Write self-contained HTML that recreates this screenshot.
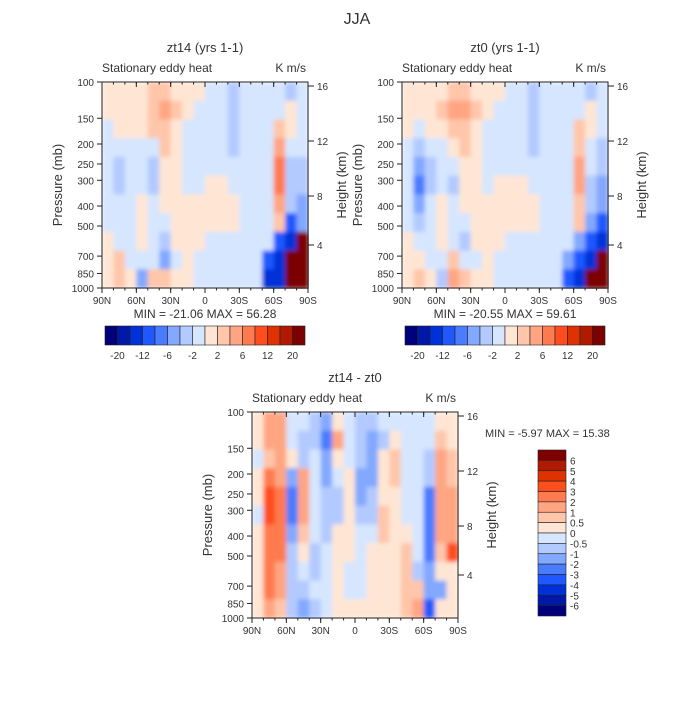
<!DOCTYPE html>
<html><head><meta charset="utf-8"><style>
body{margin:0;background:#fff}
svg text{font-family:"Liberation Sans",sans-serif;fill:#333}
</style></head><body>
<svg id="s" width="700" height="700" viewBox="0 0 700 700">
<defs><filter id="bl" x="0" y="0" width="1" height="1"><feGaussianBlur stdDeviation="2.2"/></filter></defs>
<text x="357" y="24" font-size="16" text-anchor="middle">JJA</text>
</svg>
<script>
const latLabels=["90N","60N","30N","0","30S","60S","90S"];
const pLabels=[100,150,200,250,300,400,500,700,850,1000];
const hLabels=[16,12,8,4];
const hPos=[86,141,196,245];
const topLevels=[-20,-16,-12,-8,-6,-4,-2,0,2,4,6,8,12,16,20];
const topColors=["#00007a","#0018a8","#0030d8","#1f58ff","#4a7cff","#82a8ff","#b2caff","#d6e6ff","#ffe6d4","#ffc6aa","#ffa582","#ff7a4e","#ff4d1e","#de3200","#b01a00","#7d0000"];
const diffLevels=[-6,-5,-4,-3,-2,-1,-0.5,0,0.5,1,2,3,4,5,6];
const diffColors=["#00007a","#0018a8","#0030d8","#1f58ff","#4a7cff","#82a8ff","#b2caff","#d6e6ff","#ffe6d4","#ffc6aa","#ffa582","#ff7a4e","#ff4d1e","#de3200","#b01a00","#7d0000"];
const zt14=[
[1,1,1,1,3,3,1,1,1,-1,-1,-3,-1,-1,-1,-1,-3,-1],
[1,1,1,1,3,5,3,1,-1,-1,-1,-3,-1,-1,-1,-1,1,-1],
[-1,1,1,1,3,3,1,-1,-1,-1,-1,-3,-1,-1,-1,3,1,-1],
[-1,-1,-1,-1,-1,3,1,-1,-1,-1,-1,-3,-1,-1,-1,5,-1,-1],
[-1,-3,-1,-1,-3,1,1,-1,-1,-1,-1,-1,-1,-1,-1,7,-3,-3],
[-1,-3,-1,-1,-3,1,1,-1,-1,1,1,-1,-1,-1,-1,7,-3,-3],
[-1,-1,-1,1,-1,1,1,1,1,1,1,1,-1,-1,-1,5,-3,-5],
[-1,-1,-1,1,-1,-1,1,1,1,1,1,1,-1,-1,-1,3,-9,-5],
[1,-1,-1,1,-1,-3,1,1,1,-1,-1,-1,-1,-1,-1,-9,-13,25],
[1,3,-1,-1,-1,-5,-1,1,-1,-1,-1,-1,-1,-1,-9,-13,25,25],
[1,3,1,-5,3,3,1,1,-1,-1,-1,-1,-1,-1,-13,-13,25,25]];
const zt0=[
[1,1,1,1,3,3,1,1,1,-1,-1,-3,-1,-1,-1,-1,-3,-1],
[1,1,1,3,5,5,3,1,-1,-1,-1,-3,-1,-1,-1,-1,1,-1],
[1,-1,1,1,3,3,1,-1,-1,-1,-1,-3,-1,-1,-1,3,1,-1],
[-1,-3,-1,-1,1,3,1,-1,-1,-1,-1,-3,-1,-1,-1,3,-1,-3],
[-1,-5,-3,-1,-1,1,1,-1,-1,-1,-1,-1,-1,-1,-1,5,-1,-3],
[-1,-7,-3,-1,-3,1,1,-1,1,1,1,-1,-1,-1,-1,5,-3,-5],
[-1,-5,-1,1,-1,1,1,1,1,1,1,1,-1,-1,-1,3,-3,-5],
[-1,-3,-1,1,-1,-1,1,1,1,1,1,1,-1,-1,-1,3,-5,-9],
[1,-1,-1,1,-1,-3,1,1,1,-1,-1,-1,-1,-1,-1,-5,-9,-13],
[1,1,-1,-1,3,-1,-1,1,-1,-1,-1,-1,-1,-1,-5,-9,-13,25],
[1,3,1,-3,5,3,1,1,-1,-1,-1,-1,-1,-1,-9,-13,25,25]];
const diff=[
[0.25,1.5,1.5,-0.25,-0.25,-0.75,-1.5,0.25,-0.25,-0.75,-0.75,-0.25,-0.25,-0.25,-0.25,-0.25,0.25,0.25],
[0.25,1.5,1.5,-0.25,-0.75,-0.75,-2.5,1.5,-0.25,-0.75,-1.5,-0.75,0.25,-0.25,-0.25,-0.25,0.75,0.25],
[-0.25,0.75,1.5,0.25,-0.75,-0.25,-1.5,0.25,-0.25,-0.75,-1.5,0.25,0.75,-0.25,-0.25,-0.75,1.5,0.75],
[0.25,2.5,1.5,-1.5,1.5,-0.25,-1.5,-0.25,0.25,-1.5,-1.5,0.25,0.75,-0.25,-0.25,-0.75,1.5,0.75],
[0.25,3.5,2.5,-2.5,1.5,-0.25,-0.75,-0.75,0.25,-1.5,-0.75,0.25,0.25,-0.25,-0.25,-2.5,1.5,1.5],
[-0.25,3.5,2.5,-2.5,1.5,-0.25,-0.75,-0.75,0.25,-0.75,-0.75,0.75,0.25,-0.25,-0.25,-2.5,1.5,1.5],
[0.25,2.5,2.5,-1.5,0.75,-0.25,-0.75,0.25,0.25,-0.25,-0.25,0.75,0.25,0.25,-0.25,-2.5,1.5,1.5],
[0.25,2.5,2.5,-0.75,0.25,-0.75,-0.25,0.25,0.25,-0.25,0.25,0.25,0.25,0.75,-0.25,-2.5,0.75,3.5],
[0.25,2.5,1.5,-0.75,-0.25,-0.75,-0.25,0.25,-0.25,-0.25,0.25,0.25,0.25,0.75,-0.75,-1.5,0.25,0.25],
[0.25,2.5,1.5,-0.75,-0.75,-0.25,-0.25,0.25,-0.25,-0.25,0.25,0.25,0.25,0.75,0.75,-1.5,-1.5,0.25],
[0.25,1.5,0.75,-0.75,-1.5,-0.75,-0.25,0.25,0.25,0.25,0.25,0.25,0.25,0.75,1.5,-3.5,0.25,0.25]];
const topBarLabels=["-20","-12","-6","-2","2","6","12","20"];
const diffBarLabels=["6","5","4","3","2","1","0.5","0","-0.5","-1","-2","-3","-4","-5","-6"];

const NS="http://www.w3.org/2000/svg";
const svg=document.getElementById('s');
function mk(tag,attrs,parent){const e=document.createElementNS(NS,tag);for(const k in attrs)e.setAttribute(k,attrs[k]);(parent||svg).appendChild(e);return e;}
function txt(x,y,s,size,anchor,parent){const t=mk('text',{x:x,y:y,'font-size':size,'text-anchor':anchor||'middle'},parent);t.textContent=s;return t;}
function colorFor(v,levels,colors){let i=0;while(i<levels.length&&v>levels[i])i++;return colors[i];}

function panel(ox,oy,data,levels,colors,title,name,mn,mx){
  const W=206,H=206;
  const g=mk('g',{});
  
  
  const cg=mk('g',{filter:'url(#bl)'},g);
  
  
  const nr=data.length,nc=data[0].length;
  const xs=c=>ox+c*W/nc, ys=r=>oy+r*H/nr;
  for(let r=0;r<nr;r++)for(let c=0;c<nc;c++){
    const rc=mk('rect',{x:xs(c),y:ys(r),width:W/nc+0.6,height:H/nr+0.6,fill:colorFor(data[r][c],levels,colors)},cg);
    
    
  }
  mk('rect',{x:ox,y:oy,width:W,height:H,fill:'none',stroke:'#222','stroke-width':1},g);
  latLabels.forEach((l,i)=>{const x=ox+i*W/6;mk('line',{x1:x,y1:oy+H,x2:x,y2:oy+H+5,stroke:'#222'},g);mk('line',{x1:x,y1:oy,x2:x,y2:oy+5,stroke:'#222'},g);const t=txt(x,oy+H+16,l,10,'middle',g);});
  for(let i=0;i<18;i++){const x=ox+i*W/18;mk('line',{x1:x,y1:oy+H,x2:x,y2:oy+H+2.5,stroke:'#222'},g);mk('line',{x1:x,y1:oy,x2:x,y2:oy+2.5,stroke:'#222'},g);}
  pLabels.forEach(p=>{const y=oy+H*Math.log10(p/100);mk('line',{x1:ox-5,y1:y,x2:ox,y2:y,stroke:'#222'},g);const t=txt(ox-8,y+4,String(p),10,'end',g);});
  hLabels.forEach((h,i)=>{const y=oy+(hPos[i]-82);mk('line',{x1:ox+W,y1:y,x2:ox+W+6,y2:y,stroke:'#222'},g);const t=txt(ox+W+9,y+4,String(h),10,'start',g);});
  let t=txt(ox+W/2,oy-30,title,13,'middle',g);
  t=txt(ox,oy-10,'Stationary eddy heat',12,'start',g);
  t=txt(ox+W-2,oy-10,'K m/s',12,'end',g);
  t=txt(ox-40,oy+H/2,'Pressure (mb)',13,'middle',g);t.setAttribute('transform',`rotate(-90 ${ox-40} ${oy+H/2})`);
  t=txt(ox+W+38,oy+H/2,'Height (km)',13,'middle',g);t.setAttribute('transform',`rotate(-90 ${ox+W+38} ${oy+H/2})`);
  if(mn){t=txt(ox+W/2,oy+H+30,'MIN = '+mn+'   MAX =  '+mx,12,'middle',g);t.setAttribute('xml:space','preserve');}
}
function hbar(ox,oy){
  const g=mk('g',{});
  
  
  const w=200/topColors.length;
  topColors.forEach((c,i)=>{const r=mk('rect',{x:ox+i*w,y:oy,width:w,height:19,fill:c,stroke:'#222','stroke-width':0.6},g);});
  topBarLabels.forEach((l,i)=>{const t=txt(ox+(2*i+1)*w,oy+33,l,10,'middle',g);});
}
panel(102,82,zt14,topLevels,topColors,'zt14 (yrs 1-1)','panel-zt14','-21.06','56.28');
panel(402,82,zt0,topLevels,topColors,'zt0 (yrs 1-1)','panel-zt0','-20.55','59.61');
panel(252,412,diff,diffLevels,diffColors,'zt14 - zt0','panel-diff',null,null);
hbar(105,326);hbar(405,326);
let t=txt(485,437,'MIN =  -5.97   MAX =  15.38',11,'start');t.setAttribute('xml:space','preserve');


const vg=mk('g',{});


const vh=166/diffColors.length;
diffColors.slice().reverse().forEach((c,i)=>{const r=mk('rect',{x:538,y:450+i*vh,width:28,height:vh,fill:c,stroke:'#222','stroke-width':0.6},vg);});
diffBarLabels.forEach((l,i)=>{const tt=txt(570,450+(i+1)*vh+4,l,10,'start',vg);});
</script>
</body></html>
